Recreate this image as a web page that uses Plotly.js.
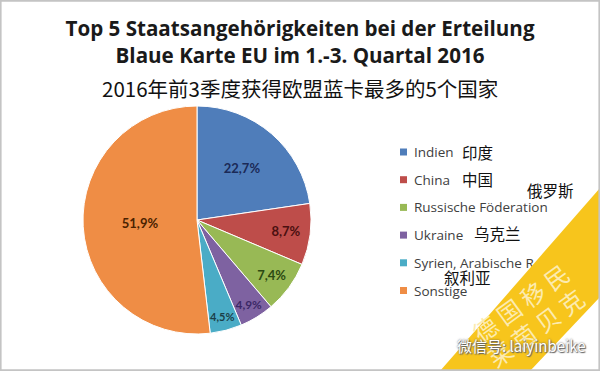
<!DOCTYPE html>
<html>
<head>
<meta charset="utf-8">
<script src="https://cdn.plot.ly/plotly-3.0.1.min.js"></script>
<style>
html,body{margin:0;padding:0;background:#fff;}
#wrap{position:relative;width:600px;height:371px;}
#chart,#overlay{position:absolute;left:0;top:0;width:600px;height:371px;}
</style>
</head>
<body>
<div id="wrap"><div id="chart"></div><div id="overlay"></div></div>
<script>
// ---- data ----
const categories = ['Indien', 'China', 'Russische Föderation', 'Ukraine', 'Syrien, Arabische Republik', 'Sonstige'];
const legendLabels = ['Indien', 'China', 'Russische Föderation', 'Ukraine', 'Syrien, Arabische R', 'Sonstige'];
const shares = [22.7, 8.7, 7.4, 4.9, 4.5, 51.9];
const sliceColors = ['#4F7DBA', '#BE4D4A', '#98B955', '#7E62A1', '#4AACC6', '#EF8D45'];
const labelColors = ['#1B2A57', '#4A1010', '#2C4A12', '#3B2866', '#1B3F48', '#4A2200'];
const chineseNames = ['印度', '中国', '俄罗斯', '乌克兰', '叙利亚'];

const W = 600, H = 371;
const px = x => x / W;
const py = y => 1 - y / H;

// pie geometry
const cx = 197, cy = 220, r = 114;

const trace = {
  type: 'pie',
  labels: categories,
  values: shares,
  sort: false,
  direction: 'clockwise',
  rotation: 0,
  domain: {x: [px(cx - r), px(cx + r)], y: [py(cy + r), py(cy - r)]},
  marker: {colors: sliceColors, line: {color: '#ffffff', width: 1}},
  texttemplate: '%{value:.1f}%',
  textposition: 'inside',
  insidetextorientation: 'horizontal',
  textfont: {family: 'Lato', size: 13, weight: 700, color: labelColors},
  hoverinfo: 'label+percent',
  showlegend: false
};

const shapes = [];
const annotations = [];

// manual legend
const legX = 400, legTextX = 412, legY0 = 152, legStep = 27.7, sq = 7;
legendLabels.forEach((lab, i) => {
  const y = legY0 + i * legStep;
  shapes.push({type: 'rect', xref: 'paper', yref: 'paper',
    x0: px(legX), x1: px(legX + sq), y0: py(y + sq / 2), y1: py(y - sq / 2),
    fillcolor: sliceColors[i], line: {width: 0}});
  annotations.push({xref: 'paper', yref: 'paper', x: px(legTextX), y: py(y),
    xanchor: 'left', yanchor: 'middle', showarrow: false, text: lab,
    font: {family: 'Open Sans', size: 13.5, color: '#404040'}});
});

// chinese names next to legend
const cnPos = [[460, 152], [460, 179], [525, 190], [472, 233], [442, 277]];
chineseNames.forEach((t, i) => {
  annotations.push({xref: 'paper', yref: 'paper', x: px(cnPos[i][0]), y: py(cnPos[i][1]),
    xanchor: 'left', yanchor: 'middle', showarrow: false, text: t,
    font: {family: 'Noto Sans CJK SC', size: 15.5, color: '#111111'}});
});

// chinese subtitle
annotations.push({xref: 'paper', yref: 'paper', x: 0.5, y: py(88), xanchor: 'center', yanchor: 'middle',
  showarrow: false, text: '2016年前3季度获得欧盟蓝卡最多的5个国家',
  font: {family: 'Noto Sans CJK SC', size: 20.5, color: '#111111'}});

const layout = {
  width: W, height: H,
  margin: {l: 0, r: 0, t: 0, b: 0},
  paper_bgcolor: '#ffffff',
  separators: ',.',
  showlegend: false,
  title: {
    text: 'Top 5 Staatsangehörigkeiten bei der Erteilung<br>Blaue Karte EU im 1.-3. Quartal 2016',
    x: 0.5, xanchor: 'center', xref: 'paper',
    y: 1 - 36 / H, yanchor: 'top', yref: 'container',
    font: {family: 'Open Sans', size: 20.6, weight: 700, color: '#1a1a1a'}
  },
  shapes: shapes,
  annotations: annotations
};

Plotly.newPlot('chart', [trace], layout, {displayModeBar: false, staticPlot: true});

// ---- watermark overlay ----
const band = [[600, 188], [600, 297], [530, 371], [440, 371]];
const bandPath = 'M ' + band.map(p => px(p[0]) + ',' + py(p[1])).join(' L ') + ' Z';
const overlayLayout = {
  width: W, height: H,
  margin: {l: 0, r: 0, t: 0, b: 0},
  paper_bgcolor: 'rgba(0,0,0,0)', plot_bgcolor: 'rgba(0,0,0,0)',
  xaxis: {visible: false, range: [0, 1]}, yaxis: {visible: false, range: [0, 1]},
  showlegend: false,
  shapes: [
    {type: 'path', xref: 'paper', yref: 'paper', path: bandPath, fillcolor: '#F7C51C', line: {width: 0}},
    {type: 'rect', xref: 'paper', yref: 'paper', x0: 0.001, x1: 0.999, y0: 0.002, y1: 0.998,
      line: {color: '#c4c4c4', width: 2}, fillcolor: 'rgba(0,0,0,0)'}
  ],
  annotations: [
    {xref: 'paper', yref: 'paper', x: px(520), y: py(302), xanchor: 'center', yanchor: 'middle', showarrow: false, textangle: -36,
      text: '德 国 移 民', font: {family: 'Noto Sans CJK SC', size: 24, color: '#FCEBB0'}},
    {xref: 'paper', yref: 'paper', x: px(535), y: py(327), xanchor: 'center', yanchor: 'middle', showarrow: false, textangle: -36,
      text: '莱 茵 贝 克', font: {family: 'Noto Sans CJK SC', size: 24, color: '#FCEBB0'}},
    {xref: 'paper', yref: 'paper', x: px(455), y: py(345), xanchor: 'left', yanchor: 'middle', showarrow: false,
      text: '微信号: laiyinbeike',
      font: {family: 'Noto Sans CJK SC', size: 15, color: '#ffffff', shadow: '0px 0px 2px #555, 1px 1px 1px #666'}}
  ]
};
Plotly.newPlot('overlay', [], overlayLayout, {displayModeBar: false, staticPlot: true});
</script>
</body>
</html>
